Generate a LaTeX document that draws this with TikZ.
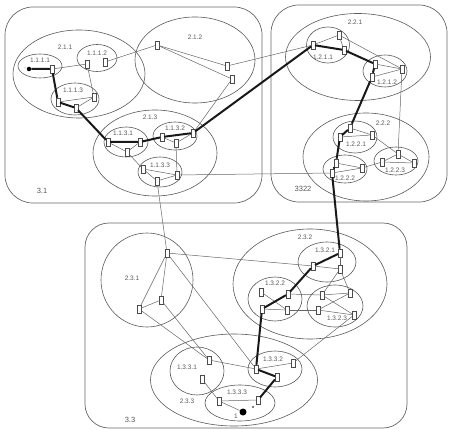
\documentclass[tikz,border=0pt]{standalone}
\usepackage{fontspec}
\setmainfont{Liberation Sans}
\usetikzlibrary{shapes.geometric}

\begin{document}
\begin{tikzpicture}[x=1pt,y=-1pt,
  region/.style={draw=black!60, line width=0.7pt, rounded corners=28pt},
  cluster/.style={ellipse, draw=black!65, line width=0.6pt, inner sep=0pt},
  port/.style={rectangle, draw=black!70, fill=white, line width=0.5pt,
    minimum width=3.6pt, minimum height=8pt, inner sep=0pt},
  link/.style={draw=black!60, line width=0.5pt},
  route/.style={draw=black!90, line width=2pt, line join=round},
  tag/.style={font=\fontsize{6.5}{7}\selectfont, text=black!65, inner sep=0pt},
  endpt/.style={circle, fill=black, inner sep=0pt, minimum size=#1}
]
\useasboundingbox (0,0) rectangle (449,430);

% ---------- level 3 regions ----------
\draw[region] (5,7) rectangle (262,203);
\draw[region] (271,5) rectangle (447,202);
\draw[region, rounded corners=24pt] (85,223) rectangle (407,428);
\node[tag, font=\fontsize{7.5}{8}\selectfont] (l31) at (42,191) {3.1};
\node[tag, font=\fontsize{7.5}{8}\selectfont] (l32) at (303,189) {3322};
\node[tag, font=\fontsize{7.5}{8}\selectfont] (l33) at (130,420) {3.3};

% ---------- level 2 clusters ----------
\node[cluster, minimum width=132pt, minimum height=88pt] (c211) at (79,74) {};
\node[cluster, minimum width=120pt, minimum height=86pt] (c212) at (195,60) {};
\node[cluster, minimum width=124pt, minimum height=86pt] (c213) at (155,153) {};
\node[cluster, minimum width=145pt, minimum height=87pt] (c221) at (358,57) {};
\node[cluster, minimum width=126pt, minimum height=88pt] (c222) at (366,157) {};
\node[cluster, minimum width=92pt, minimum height=94pt] (c231) at (147,280) {};
\node[cluster, minimum width=154pt, minimum height=110pt] (c232) at (310,284) {};
\node[cluster, minimum width=167pt, minimum height=92pt] (c233) at (234,380) {};
\node[tag] (l211) at (65,47) {2.1.1};
\node[tag] (l212) at (195,37) {2.1.2};
\node[tag] (l213) at (150,117) {2.1.3};
\node[tag] (l221) at (355,22) {2.2.1};
\node[tag] (l222) at (383,123) {2.2.2};
\node[tag] (l231) at (132,278) {2.3.1};
\node[tag] (l232) at (305,237) {2.3.2};
\node[tag] (l233) at (187,401) {2.3.3};

% ---------- level 1 clusters ----------
\node[cluster, minimum width=44pt, minimum height=24pt] (c1111) at (40,66) {};
\node[cluster, minimum width=40pt, minimum height=27pt] (c1112) at (97,58) {};
\node[cluster, minimum width=48pt, minimum height=32pt] (c1113) at (75,99) {};
\node[cluster, minimum width=44pt, minimum height=30pt] (c1131) at (126,142) {};
\node[cluster, minimum width=44pt, minimum height=28pt] (c1132) at (175,136) {};
\node[cluster, minimum width=44pt, minimum height=30pt] (c1133) at (160,172) {};
\node[cluster, minimum width=43pt, minimum height=36pt] (c1211) at (328,45) {};
\node[cluster, minimum width=44pt, minimum height=32pt] (c1212) at (385,71) {};
\node[cluster, minimum width=44pt, minimum height=32pt] (c1221) at (355,137) {};
\node[cluster, minimum width=44pt, minimum height=28pt] (c1222) at (345,169) {};
\node[cluster, minimum width=44pt, minimum height=28pt] (c1223) at (396,161) {};
\node[cluster, minimum width=58pt, minimum height=40pt] (c1321) at (327,262) {};
\node[cluster, minimum width=54pt, minimum height=44pt] (c1322) at (275,299) {};
\node[cluster, minimum width=56pt, minimum height=42pt] (c1323) at (335,306) {};
\node[cluster, minimum width=54pt, minimum height=48pt] (c1331) at (197,371) {};
\node[cluster, minimum width=54pt, minimum height=36pt] (c1332) at (275,369) {};
\node[cluster, minimum width=70pt, minimum height=36pt] (c1333) at (240,403) {};
\node[tag] (l1111) at (40,60) {1.1.1.1};
\node[tag] (l1112) at (97,53) {1.1.1.2};
\node[tag] (l1113) at (73,90) {1.1.1.3};
\node[tag] (l1131) at (123,133) {1.1.3.1};
\node[tag] (l1132) at (175,128) {1.1.3.2};
\node[tag] (l1133) at (160,165) {1.1.3.3};
\node[tag] (l1211) at (323,57) {1.2.1.1};
\node[tag] (l1212) at (387,82) {1.2.1.2};
\node[tag] (l1221) at (356,144) {1.2.2.1};
\node[tag] (l1222) at (345,178) {1.2.2.2};
\node[tag] (l1223) at (395,170) {1.2.2.3};
\node[tag] (l1321) at (325,250) {1.3.2.1};
\node[tag] (l1322) at (275,283) {1.3.2.2};
\node[tag] (l1323) at (337,318) {1.3.2.3};
\node[tag] (l1331) at (187,367) {1.3.3.1};
\node[tag] (l1332) at (273,359) {1.3.3.2};
\node[tag] (l1333) at (237,392) {1.3.3.3};

% ---------- ports ----------
\foreach \n/\p in {
  q1/{(52,69)}, q2/{(87,64)}, q3/{(105,62)}, q4/{(58,102)}, q5/{(94,97)}, q6/{(76,108)},
  r1/{(157,45)}, r2/{(227,66)}, r3/{(232,79)},
  s1/{(108,142)}, s2/{(140,142)}, s3/{(127,152)}, s4/{(162,137)}, s5/{(193,133)},
  s6/{(176,143)}, s7/{(143,169)}, s8/{(177,175)}, s9/{(157,181)},
  t1/{(313,45)}, t2/{(339,35)}, t3/{(344,50)}, t4/{(375,64)}, t5/{(402,69)}, t6/{(372,77)},
  u1/{(350,128)}, u2/{(340,137)}, u3/{(372,135)}, u4/{(336,163)}, u5/{(362,168)},
  u6/{(332,173)}, u7/{(398,154)}, u8/{(382,162)}, u9/{(414,163)},
  v1/{(167,253)}, v2/{(161,300)}, v3/{(139,309)},
  w1/{(340,253)}, w2/{(313,266)}, w3/{(340,269)}, w4/{(261,292)}, w5/{(288,294)},
  w6/{(262,309)}, w7/{(287,310)}, w8/{(322,295)}, w9/{(350,293)}, w10/{(318,310)}, w11/{(354,315)},
  x1/{(209,360)}, x2/{(202,379)}, x3/{(256,369)}, x4/{(277,377)}, x5/{(293,363)},
  x6/{(219,401)}, x7/{(258,400)}}
  \node[port] (\n) at \p {};

% end points of the route
\node[endpt=4.5pt] (d0) at (29,69) {};
\node[endpt=1pt, fill=black!60] (d0b) at (25,68) {};
\node[endpt=7pt] (d1) at (243,412) {};
\node[endpt=1.8pt] (d1b) at (253,407) {};
\node[tag] (l1) at (236,416) {1};

% ---------- thin links ----------
\foreach \a/\b in {q1/q2, q3/r1, q2/q5, q4/q5, q5/q6,
  r1/r2, r1/r3, r2/t1, r3/s5,
  s1/s3, s3/s2, s3/s7, s4/s6, s6/s5, s6/s8, s7/s8, s7/s9, s9/s8, s8/u6, s9/v1,
  t1/t2, t2/t3, t2/t5, t4/t5, t5/t6, t5/u7,
  u1/u3, u2/u3, u3/u7, u4/u5, u5/u6, u5/u8, u7/u8, u7/u9, u8/u9,
  v1/v2, v1/v3, v3/v2, v1/w2, v1/x3, v2/x1, v3/x1,
  w2/w3, w1/w3, w3/w8, w3/w9,
  w4/w7, w5/w6, w6/w7, w5/w8, w7/w10, w8/w11, w9/w10, w8/w9, w10/w11,
  x1/x3, x2/x6, x3/x5, x5/w11, x6/x7, x6/d1}
  \draw[link] (\a) -- (\b);

% ---------- highlighted route ----------
\draw[route] (d0) -- (q1) -- (q4) -- (q6) -- (s1) -- (s2) -- (s4) -- (s5)
  -- (t1) -- (t3) -- (t4) -- (t6) -- (u1) -- (u2) -- (u4) -- (u6)
  -- (w1) -- (w2) -- (w5) -- (w6) -- (x3) -- (x4) -- (x7);
\end{tikzpicture}
\end{document}
